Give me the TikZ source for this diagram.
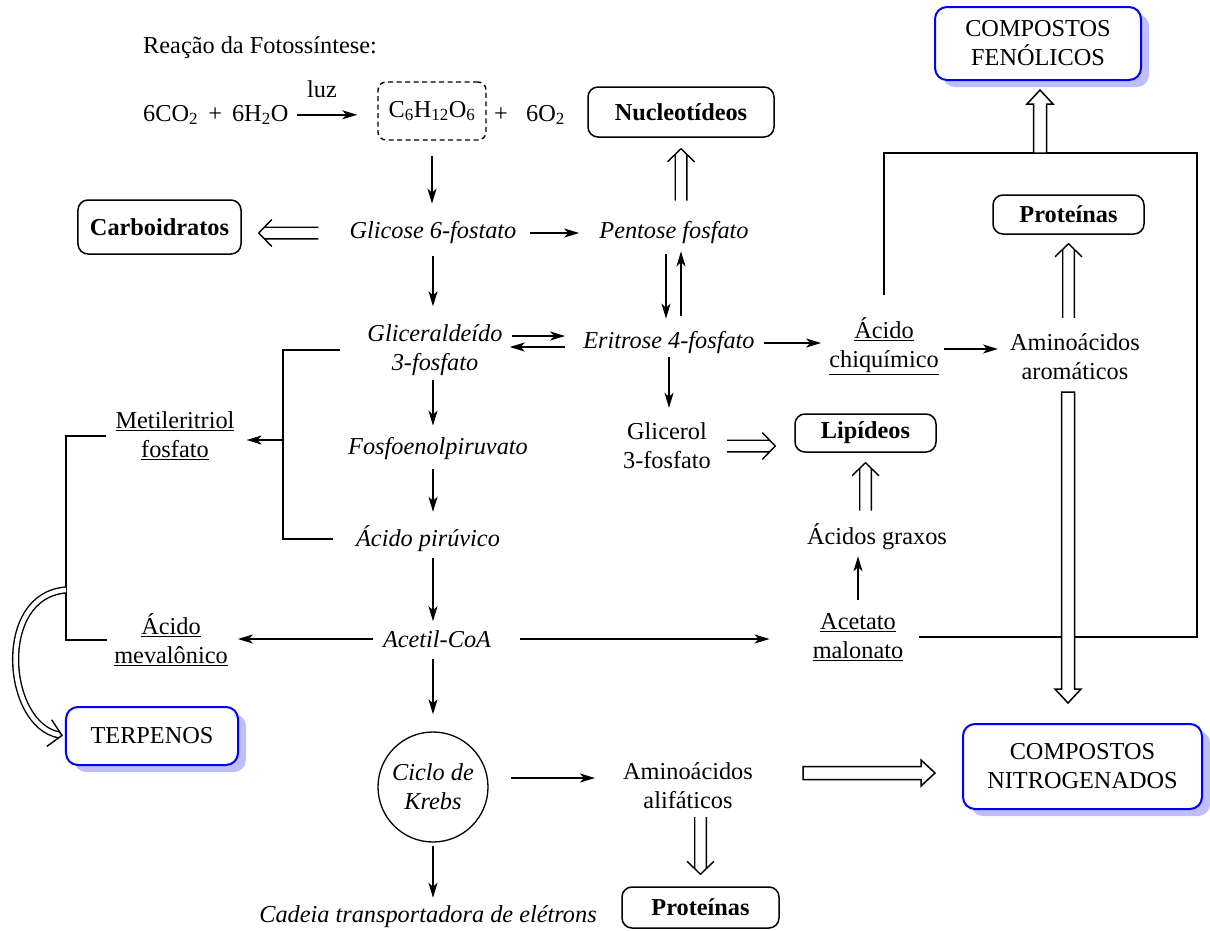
\documentclass[tikz,border=0pt]{standalone}
\usepackage{fontspec}
\setmainfont{Liberation Serif}
\usetikzlibrary{arrows.meta,calc,shadows}
\definecolor{shadowc}{RGB}{190,190,250}
\newcommand\fs{\fontsize{24.4}{29}\selectfont}
\tikzset{dsa/.store in=\dsa, dsb/.store in=\dsb, dsa=0bp, dsb=0bp}
\begin{document}
\begin{tikzpicture}[x=1bp,y=1bp,
  txt/.style={inner sep=0pt, align=center, font=\fs},
  it/.style={inner sep=0pt, align=center, font=\fs\itshape},
  bbox/.style={draw, line width=1.5bp, rounded corners=10bp, font=\fs\bfseries, inner sep=0pt},
  cbox/.style={draw=blue, fill=white, line width=2bp, rounded corners=12bp, font=\fs, align=center, inner sep=0pt,
    drop shadow={shadow xshift=8bp, shadow yshift=-7bp, fill=shadowc, opacity=1}},
  gbox/.style={draw, dash pattern=on 5bp off 3.5bp, line width=1.4bp, rounded corners=8bp, font=\fs, inner sep=0pt, minimum width=108bp, minimum height=58bp},
  arr/.style={line width=1.5bp, -{Stealth[length=15bp,width=9bp,inset=4bp]}},
  ln/.style={line width=1.5bp},
  dbl/.style={line width=1.4bp, line join=miter, to path={
    ($(\tikztostart)!\dsa!(\tikztotarget)$) coordinate (ds)
    ($(\tikztotarget)!\dsb!(\tikztostart)$) coordinate (de)
    ($(de)!13bp!(ds)$) coordinate (dh)
    ($(de)!5.6bp!(ds)$) coordinate (dm)
    ($(ds)!5.8bp!90:(de)$) -- ($(dm)!5.8bp!-90:(ds)$)
    ($(ds)!5.8bp!-90:(de)$) -- ($(dm)!5.8bp!90:(ds)$)
    ($(dh)!13.5bp!-90:(ds)$) -- (de) -- ($(dh)!13.5bp!90:(ds)$)}},
  barrow/.style={line width=1.5bp, fill=white, to path={
    ($(\tikztotarget)!14bp!(\tikztostart)$) coordinate (bah)
    ($(\tikztostart)!6.5bp!90:(\tikztotarget)$) -- ($(bah)!6.5bp!-90:(\tikztostart)$)
    -- ($(bah)!13bp!-90:(\tikztostart)$) -- (\tikztotarget)
    -- ($(bah)!13bp!90:(\tikztostart)$) -- ($(bah)!6.5bp!90:(\tikztostart)$)
    -- ($(\tikztostart)!6.5bp!-90:(\tikztotarget)$) -- cycle}}
]
\useasboundingbox (0,0) rectangle (1210,-931);

% --- photosynthesis line
\node[txt, anchor=base west] (title) at (143,-53) {Reação da Fotossíntese:};
\node[txt, anchor=base west] (eq1) at (143,-121) {6CO\textsubscript{2}\ \,+\ \,6H\textsubscript{2}O};
\node[txt, anchor=base] (luz) at (322,-97) {luz};
\node[gbox] (glu) at (432,-111) {C\textsubscript{6}H\textsubscript{12}O\textsubscript{6}};
\node[txt, anchor=base west] (o2) at (494,-121) {+\ \ \ 6O\textsubscript{2}};

% --- boxes
\node[bbox, minimum width=186bp, minimum height=50bp] (nuc) at (681,-112) {Nucleotídeos};
\node[bbox, minimum width=163bp, minimum height=54bp] (carb) at (159.5,-227) {Carboidratos};
\node[bbox, minimum width=151bp, minimum height=39bp] (pro) at (1068.5,-214.5) {Proteínas};
\node[bbox, minimum width=141bp, minimum height=38bp] (lip) at (865.5,-433) {Lipídeos};
\node[bbox, minimum width=157bp, minimum height=41bp] (prob) at (700.5,-907.5) {Proteínas};
\node[cbox, minimum width=206bp, minimum height=73bp] (fen) at (1038,-43.5) {COMPOSTOS\\FENÓLICOS};
\node[cbox, minimum width=239bp, minimum height=85bp] (nit) at (1082.5,-766.5) {COMPOSTOS\\NITROGENADOS};
\node[cbox, minimum width=172bp, minimum height=58bp] (terp) at (152,-736) {TERPENOS};

% --- text nodes
\node[it] (g6p) at (433,-233) {Glicose 6-fostato};
\node[it] (pen) at (674,-233) {Pentose fosfato};
\node[it] (gli) at (435,-350) {Gliceraldeído\\3-fosfato};
\node[it] (eri) at (669,-343) {Eritrose 4-fosfato};
\node[txt] (chi) at (884,-346) {\underline{Ácido}\\\underline{chiquímico}};
\node[txt] (ami) at (1075,-357) {Aminoácidos\\aromáticos};
\node[txt] (met) at (175,-436) {\underline{Metileritriol}\\\underline{fosfato}};
\node[it] (fos) at (438,-449) {Fosfoenolpiruvato};
\node[txt] (glp) at (667,-446) {Glicerol\\3-fosfato};
\node[it] (pir) at (428,-539) {Ácido pirúvico};
\node[txt] (agr) at (877,-537) {Ácidos graxos};
\node[it] (acc) at (437,-639) {Acetil-CoA};
\node[txt] (mev) at (171,-640) {\underline{Ácido}\\\underline{mevalônico}};
\node[txt] (ace) at (858,-637) {\underline{Acetato}\\\underline{malonato}};
\node[circle, draw, line width=1.3bp, minimum size=110bp, inner sep=0pt, font=\fs\itshape, align=center] (krebs) at (433,-787) {Ciclo de\\Krebs};
\node[txt] (aal) at (688,-786) {Aminoácidos\\alifáticos};
\node[it] (cad) at (428,-917) {Cadeia transportadora de elétrons};

% --- coordinates
\coordinate (br) at (283,-440);
\coordinate (bl) at (66,-590);
\coordinate (tr) at (1197,-153);
\coordinate (cc) at (5,-725);
\coordinate (b1s) at (803,-773);
\coordinate (b1e) at (935,-773);
\coordinate (b2s) at (1068,-392);
\coordinate (b2e) at (1068,-703);
\coordinate (b3s) at (1040,-153);
\coordinate (b3e) at (1040,-90);

% --- connectors
\draw[arr, shorten <=8bp, shorten >=20bp] (eq1.east) -- (eq1.east -| glu.west);
\draw[arr, shorten <=15bp, shorten >=18bp] (glu.south) -- (glu.south |- g6p.north);
\draw[dbl, dsa=31bp, dsb=17bp] (g6p.west) to (g6p.west -| carb.east);
\draw[arr, shorten <=13bp, shorten >=20bp] (g6p.east) -- (g6p.east -| pen.west);
\draw[dbl, dsa=21bp, dsb=11bp] (pen.north -| nuc) to (nuc.south);
\draw[arr, shorten <=12bp, shorten >=18bp] (g6p.south -| krebs) -- (gli.north -| krebs);
\draw[arr, shorten <=10bp, shorten >=13bp] ([xshift=-8bp]pen.south) -- ([xshift=-8bp]pen.south |- eri.north);
\draw[arr, shorten <=16bp, shorten >=7bp] ([xshift=7bp]pen.south |- eri.north) -- ([xshift=7bp]pen.south);
\draw[arr, shorten <=9bp, shorten >=18bp] ([yshift=7bp]eri.west -| gli.east) -- ([yshift=7bp]eri.west);
\draw[arr, shorten <=18bp, shorten >=7bp] ([yshift=-4bp]eri.west) -- ([yshift=-4bp]eri.west -| gli.east);
\draw[arr, shorten <=9bp, shorten >=8bp] (eri.east) -- (eri.east -| chi.west);
\draw[arr, shorten <=5bp, shorten >=12bp] ([yshift=-3bp]chi.east) -- ([yshift=-3bp]chi.east -| ami.west);
\draw[dbl, dsa=16bp, dsb=9bp] (ami.north -| pro) to (pro.south);
\draw[arr, shorten <=3bp, shorten >=15bp] (eri.south) -- (eri.south |- glp.north);
\draw[dbl, dsa=16bp, dsb=19bp] (glp.east) to (glp.east -| lip.west);
\draw[dbl, dsa=13bp, dsb=10bp] (agr.north -| lip) to (lip.south);
\draw[arr, shorten <=13bp, shorten >=6bp] (ace.north) -- (ace.north |- agr.south);
\draw[arr, shorten <=4bp, shorten >=12bp] (gli.south -| krebs) -- (fos.north -| krebs);
\draw[arr, shorten <=9bp, shorten >=14bp] (fos.south -| krebs) -- (pir.north -| krebs);
\draw[arr, shorten <=6bp, shorten >=9bp] (pir.south -| krebs) -- (acc.north -| krebs);
\draw[arr, shorten <=10bp, shorten >=10bp] (acc.west) -- (acc.west -| mev.east);
\draw[arr, shorten <=29bp, shorten >=43bp] (acc.east) -- (acc.east -| ace.west);
\draw[arr, shorten <=11bp, shorten >=17bp] (acc.south -| krebs) -- (krebs.north);
\draw[arr, shorten <=22bp, shorten >=28bp] ([yshift=9bp]krebs.east) -- ([yshift=9bp]krebs.east -| aal.west);
\draw[dbl, dsa=8bp, dsb=12bp] (aal.south -| prob) to (prob.north);
\draw[arr, shorten <=3bp, shorten >=8bp] (krebs.south) -- (krebs.south |- cad.north);

% brackets and long lines
\draw[ln, shorten <=27bp, shorten >=23bp] (gli.west) -| (br) |- (pir.west);
\draw[arr, shorten >=12bp] (br) -- (br -| met.east);
\draw[ln, shorten <=9bp, shorten >=7bp] (met.west) -| (bl) |- (mev.west);
\draw[ln, shorten <=22bp, shorten >=16bp] (chi.north) |- (tr) |- (ace.east);

% curved double arrow to TERPENOS
\draw[double, double distance=4.5bp, line width=1.4bp, shorten >=6bp] (bl) .. controls (-5,-595) and (cc) .. (terp.west);
\draw[line width=1.4bp, line join=miter] ($(terp.west)!16bp!(cc)!13.5bp!90:(cc)$) -- ($(terp.west)!3bp!(cc)$) -- ($(terp.west)!16bp!(cc)!13.5bp!-90:(cc)$);

% block arrows
\draw[barrow] (b1s) to (b1e);
\draw[barrow] (b2s) to (b2e);
\draw[barrow] (b3s) to (b3e);
\end{tikzpicture}
\end{document}
